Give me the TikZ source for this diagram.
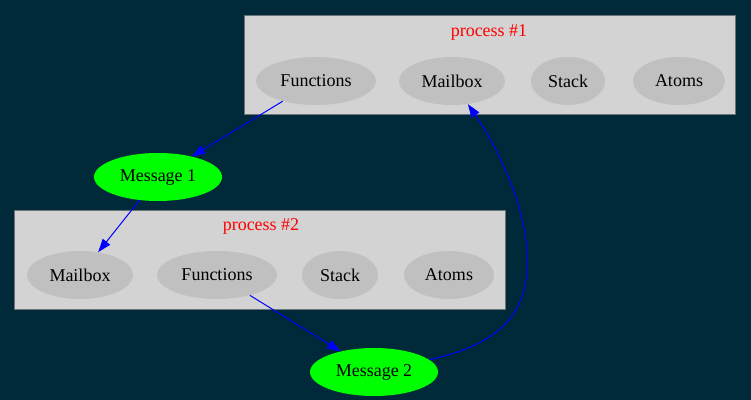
\documentclass[tikz,border=0pt]{standalone}
\usepackage{fontspec}
\setmainfont{Liberation Serif}
\usetikzlibrary{shapes.geometric,arrows.meta}

\definecolor{bgteal}{RGB}{0,41,58}
\definecolor{clufill}{RGB}{211,211,211}
\definecolor{partfill}{RGB}{192,192,192}
\definecolor{cluline}{RGB}{105,115,120}

\tikzset{
  part/.style={ellipse,fill=partfill,inner sep=0pt,minimum height=36pt,font=\fontsize{13.5}{16}\selectfont},
  msg/.style={ellipse,fill=green,inner sep=0pt,minimum width=96pt,minimum height=36pt,font=\fontsize{13.5}{16}\selectfont},
  cluster/.style={rectangle,fill=clufill,draw=cluline,line width=0.5pt,inner sep=0pt,minimum width=368pt,minimum height=74.25pt},
  clulabel/.style={text=red,font=\fontsize{13.5}{16}\selectfont},
  link/.style={blue,line width=0.75pt,-{Triangle[length=10pt,width=7pt]}}
}

\begin{document}
\begin{tikzpicture}[x=0.75pt,y=-0.75pt]
\useasboundingbox[fill=bgteal] (0,0) rectangle (751,400);

% process #1
\node[cluster] (p1) at (489.5,64.5) {};
\node[clulabel] (p1lab) at (489,32) {process \#1};
\node[part,minimum width=90pt] (fn1) at (316,81) {Functions};
\node[part,minimum width=79.5pt,right of=fn1,node distance=102pt] (mb1) {Mailbox};
\node[part,minimum width=55.5pt,right of=mb1,node distance=87pt] (st1) {Stack};
\node[part,minimum width=69pt,right of=st1,node distance=83.25pt] (at1) {Atoms};

% process #2
\node[cluster] (p2) at (260,259.5) {};
\node[clulabel] (p2lab) at (261,226) {process \#2};
\node[part,minimum width=79.5pt] (mb2) at (80,275) {Mailbox};
\node[part,minimum width=90pt,right of=mb2,node distance=102.75pt] (fn2) {Functions};
\node[part,minimum width=57pt,right of=fn2,node distance=92.25pt] (st2) {Stack};
\node[part,minimum width=67.5pt,right of=st2,node distance=81.75pt] (at2) {Atoms};

% messages
\node[msg] (m1) at (158,177) {Message 1};
\node[msg] (m2) at (374,372) {Message 2};

\draw[link] (fn1) -- (m1);
\draw[link] (m1) -- (mb2);
\draw[link] (fn2) -- (m2);
\draw[link] (m2) .. controls (510,342) and (530,305) .. (527,252)
  .. controls (525,205) and (498,148) .. (mb1);
\end{tikzpicture}
\end{document}
